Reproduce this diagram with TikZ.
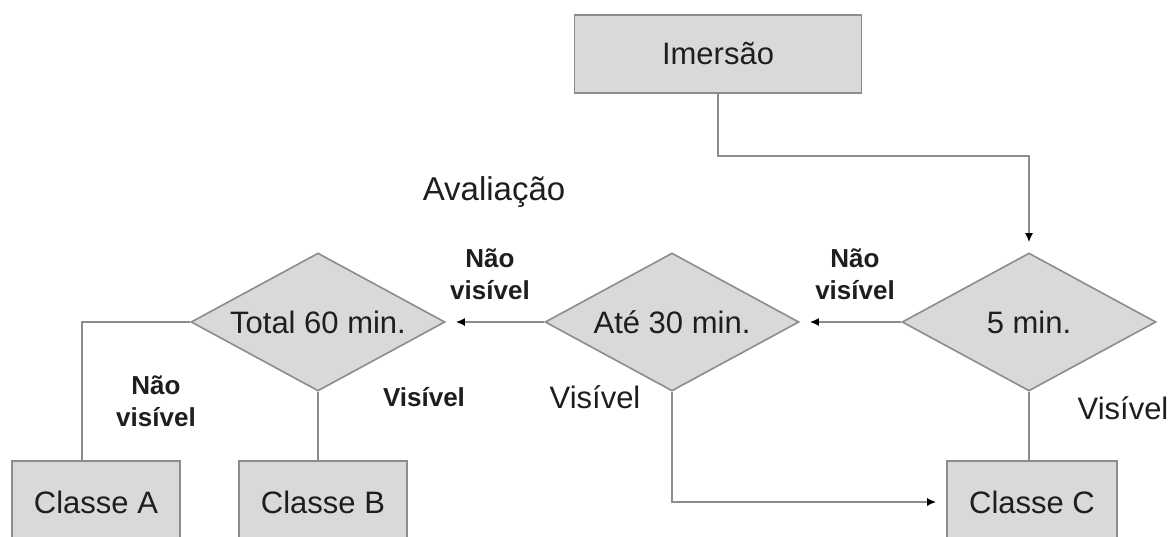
\documentclass[tikz,border=0pt]{standalone}
\usepackage{fontspec}
\setmainfont{Liberation Sans}
\usepackage{tikz}
\usetikzlibrary{shapes.geometric,arrows.meta}

\definecolor{boxfill}{RGB}{217,217,217}
\definecolor{boxline}{RGB}{140,140,140}
\definecolor{txt}{RGB}{30,30,30}

\tikzset{
  caixa/.style={rectangle, draw=boxline, fill=boxfill, line width=0.8pt, text=txt, font=\fontsize{15.5}{18}\selectfont},
  losango/.style={diamond, shape aspect=1.84, draw=boxline, fill=boxfill, line width=0.8pt, inner sep=0pt, minimum width=127pt, minimum height=69pt, text=txt, font=\fontsize{15.5}{18}\selectfont},
  rotulo/.style={text=txt, font=\fontsize{15.5}{18}\selectfont},
  negrito/.style={text=txt, align=center, font=\bfseries\fontsize{13}{16}\selectfont},
  liga/.style={draw=boxline, line width=0.8pt},
  seta/.style={liga, -{Latex[length=4.5pt,width=4pt,black]}, shorten >=5pt}
}

\begin{document}
\begin{tikzpicture}[x=0.5pt,y=-0.5pt]
\clip (0,0) rectangle (1173,536);
\fill[white] (0,0) rectangle (1173,536);

\node[caixa, minimum width=143.5pt, minimum height=39pt] (imersao) at (718,54) {Imersão};

\node[losango] (total) at (318,322) {Total 60 min.};
\node[losango] (ate) at (672,322) {Até 30 min.};
\node[losango] (cinco) at (1029,322) {5 min.};

\node[caixa, minimum width=84pt, minimum height=41pt] (classeA) at (96,502) {Classe A};
\node[caixa, minimum width=84pt, minimum height=41pt] (classeB) at (323,502) {Classe B};
\node[caixa, minimum width=85pt, minimum height=41pt] (classeC) at (1032,502) {Classe C};

\node[rotulo, font=\fontsize{16.5}{19}\selectfont] (avaliacao) at (494,192) {Avaliação};
\node[negrito] (nv1) at (855,274) {Não\\visível};
\node[negrito] (nv2) at (490,274) {Não\\visível};
\node[negrito] (nv3) at (156,401) {Não\\visível};
\node[negrito] (vis1) at (424,397) {Visível};
\node[rotulo] (vis2) at (595,397) {Visível};
\node[rotulo] (vis3) at (1123,408) {Visível};

\draw[seta] (imersao.south) -- ++(0,62) -| (cinco.north);
\draw[seta] (cinco.west) -- (ate.east);
\draw[seta] (ate.west) -- (total.east);
\draw[seta] (ate.south) |- (classeC.west);
\draw[liga] (cinco.south) -- (cinco.south |- classeC.north);
\draw[liga] (total.south) -- (total.south |- classeB.north);
\draw[liga] (total.west) -| ([xshift=-7pt]classeA.north);

\end{tikzpicture}
\end{document}
